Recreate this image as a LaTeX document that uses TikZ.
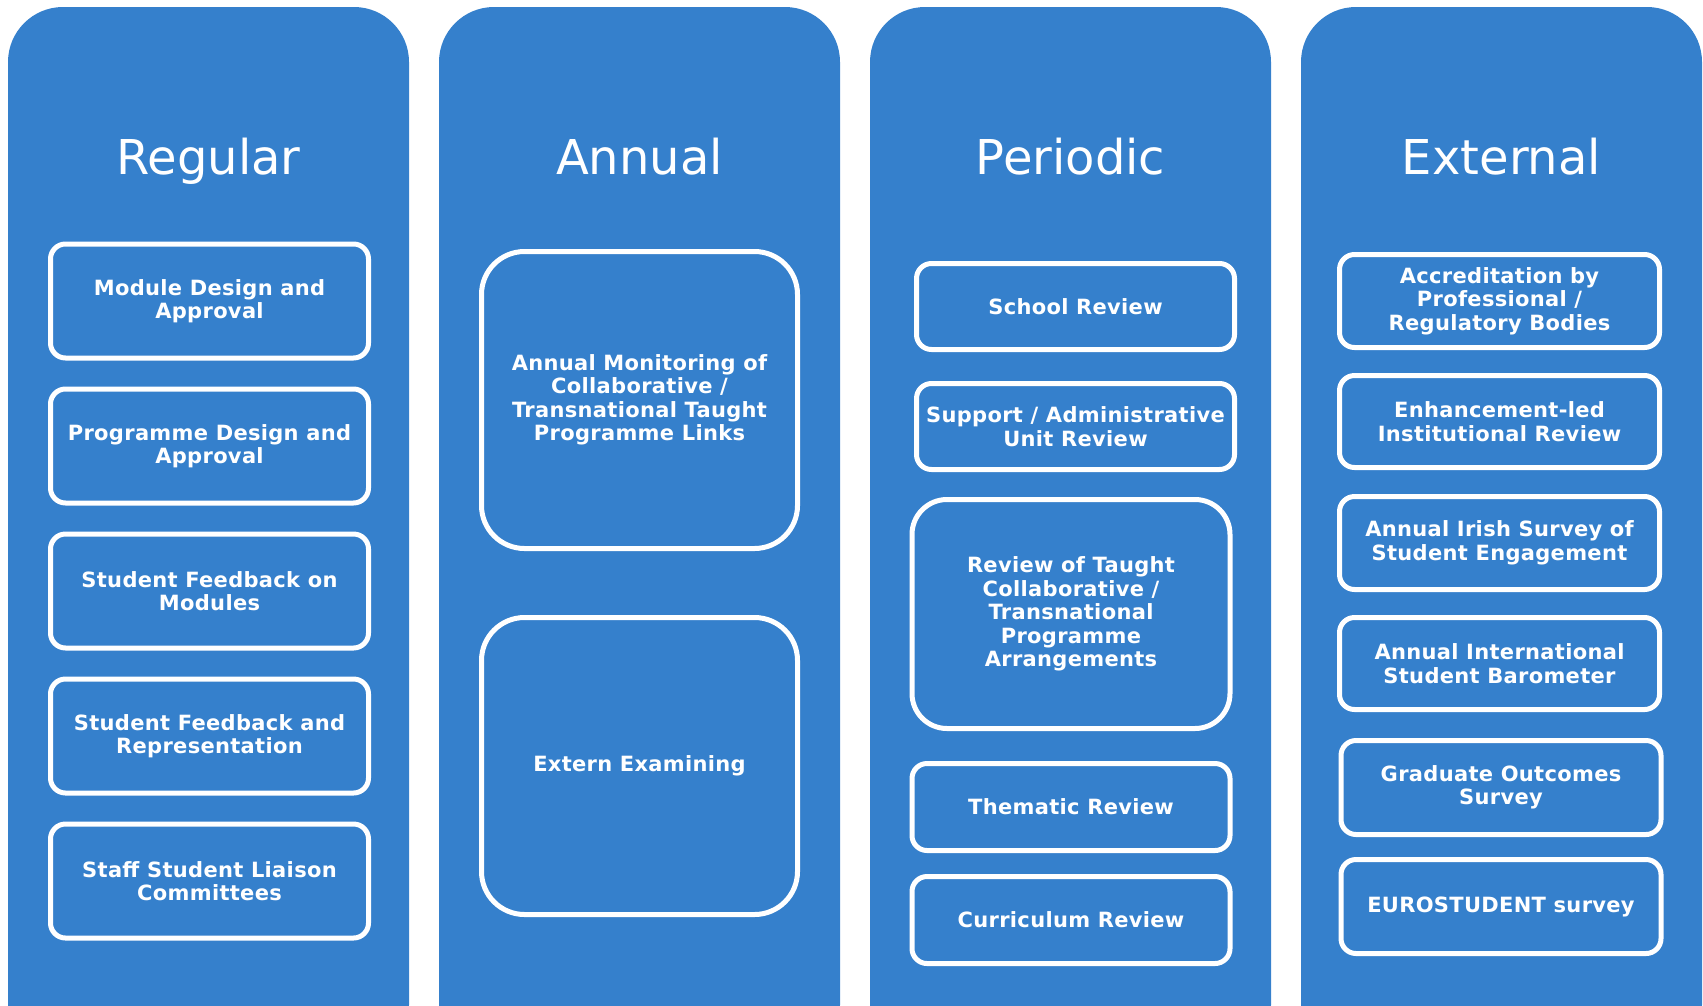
\documentclass[tikz,border=0pt]{standalone}
\usepackage{fontspec}
\setmainfont{DejaVu Sans}
\newfontfamily\boxfont[LetterSpace=1.5]{DejaVu Sans}
\definecolor{colblue}{RGB}{53,128,204}
\begin{document}
\begin{tikzpicture}[x=1pt,y=-1pt]
        \tikzset{column/.style={fill=colblue,rounded corners=55pt},
            heading/.style={text=white,anchor=base,font=\fontsize{48}{58}\selectfont},
            item/.style={draw=white,line width=5pt,fill=colblue,text=white,rounded corners=15pt,
                inner sep=0pt,align=center,minimum width=318pt,minimum height=114pt,
                font=\boxfont\bfseries\fontsize{21}{23.5}\selectfont}}
        \useasboundingbox (0,0) rectangle (1703,1005);
        \clip (0,0) rectangle (1703,1005);
        \foreach \x/\name/\title in {8/reg/Regular,439/ann/Annual,870/per/Periodic,1301/ext/External}
            {\fill[column] (\x,7) rectangle ++(401,1053);
             \node[heading] (\name-title) at (\x+200.5,174) {\title};}
        % regular
        \foreach \i/\txt in {1/Module Design and\\Approval,2/Programme Design and\\Approval,
                3/Student Feedback on\\Modules,4/Student Feedback and\\Representation,
                5/Staff Student Liaison\\Committees}
            \node[item] (reg\i) at (209.5,156+145*\i) {\txt};
        % annual
        \node[item,minimum width=316pt,minimum height=297pt,rounded corners=43pt] (ann1) at (639.5,400)
            {Annual Monitoring of\\Collaborative /\\Transnational Taught\\Programme Links};
        \node[item,minimum width=316pt,minimum height=297pt,rounded corners=43pt] (ann2) at (639.5,766)
            {Extern Examining};
        % periodic
        \node[item,minimum height=86pt] (per1) at (1075.5,306.5) {School Review};
        \node[item,minimum height=86pt] (per2) at (1075.5,426.5) {Support / Administrative\\Unit Review};
        \node[item,minimum height=229pt,rounded corners=35pt] (per3) at (1071,614)
            {Review of Taught\\Collaborative /\\Transnational\\Programme\\Arrangements};
        \node[item,minimum height=87pt] (per4) at (1071,807) {Thematic Review};
        \node[item,minimum height=87pt] (per5) at (1071,920) {Curriculum Review};
        % external
        \node[item,minimum width=320pt,minimum height=93pt] (ext1) at (1499.5,301)
            {Accreditation by\\Professional /\\Regulatory Bodies};
        \node[item,minimum width=320pt,minimum height=92pt] (ext2) at (1499.5,421.5)
            {Enhancement-led\\Institutional Review};
        \node[item,minimum width=320pt,minimum height=93pt] (ext3) at (1499.5,543)
            {Annual Irish Survey of\\Student Engagement};
        \node[item,minimum width=320pt,minimum height=92pt] (ext4) at (1499.5,663.5)
            {Annual International\\Student Barometer};
        \node[item,minimum width=320pt,minimum height=94pt] (ext5) at (1501,787.5)
            {Graduate Outcomes\\Survey};
        \node[item,minimum width=320pt,minimum height=94pt] (ext6) at (1501,906.5)
            {EUROSTUDENT survey};
\end{tikzpicture}
\end{document}
